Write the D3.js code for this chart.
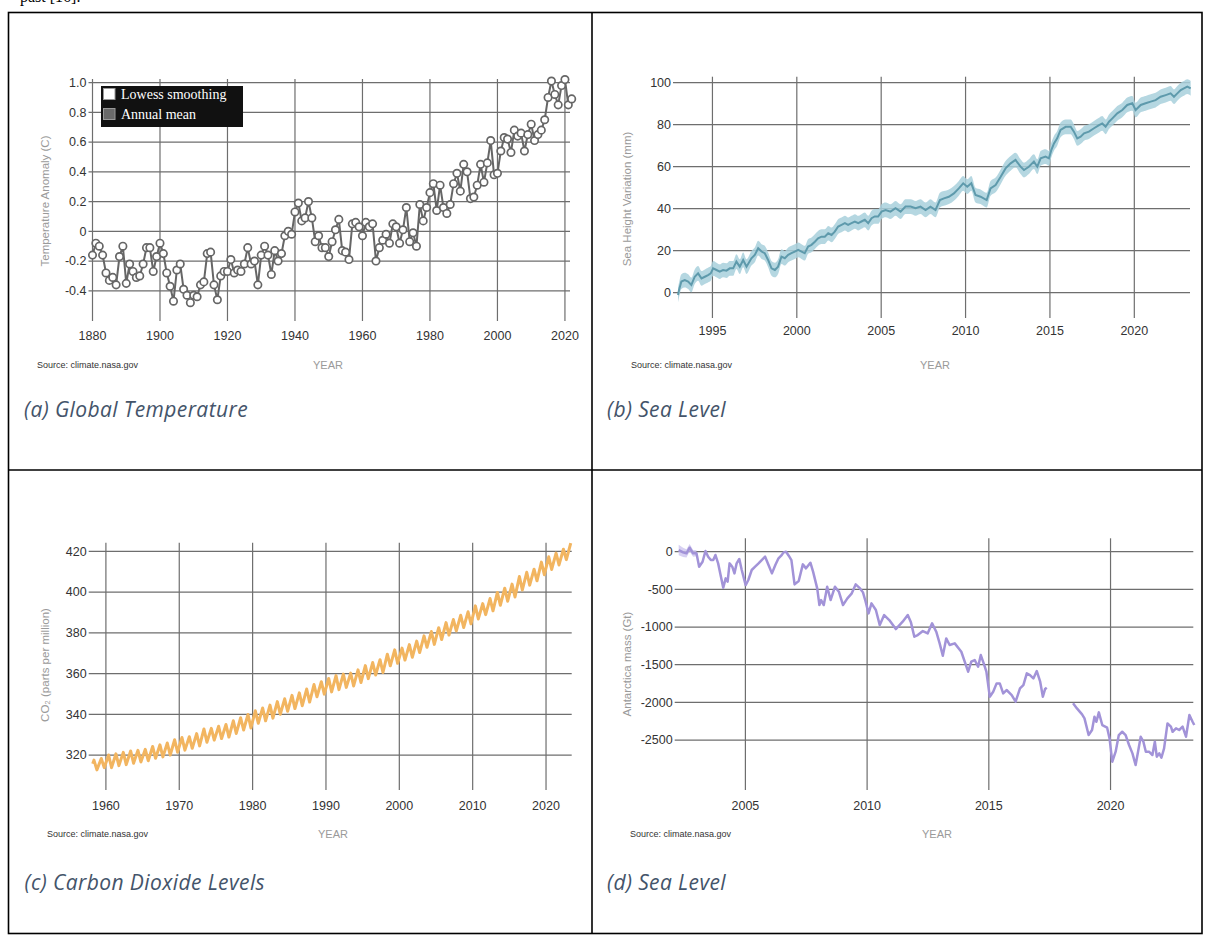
<!DOCTYPE html>
<html>
<head>
<meta charset="utf-8">
<script src="https://cdn.jsdelivr.net/npm/d3@7"></script>
<style>
  body { margin: 0; background: #fff; }
  svg text { font-family: "Liberation Sans", Arial, sans-serif; }
</style>
</head>
<body>
<svg id="fig" width="1205" height="936"></svg>
<script>
// ---------- (a) Global temperature anomaly, annual mean (°C), 1880–2022 ----------
const tempStartYear = 1880;
const tempAnomaly = [
  -0.16,-0.08,-0.10,-0.16,-0.28,-0.33,-0.31,-0.36,-0.17,-0.10,
  -0.35,-0.22,-0.27,-0.31,-0.30,-0.22,-0.11,-0.11,-0.27,-0.17,
  -0.08,-0.15,-0.28,-0.37,-0.47,-0.26,-0.22,-0.39,-0.43,-0.48,
  -0.43,-0.44,-0.36,-0.34,-0.15,-0.14,-0.36,-0.46,-0.30,-0.27,
  -0.27,-0.19,-0.28,-0.26,-0.27,-0.22,-0.11,-0.22,-0.20,-0.36,
  -0.16,-0.10,-0.16,-0.29,-0.13,-0.20,-0.15,-0.03,-0.00,-0.02,
   0.13, 0.19, 0.07, 0.09, 0.20, 0.09,-0.07,-0.03,-0.11,-0.11,
  -0.17,-0.07, 0.01, 0.08,-0.13,-0.14,-0.19, 0.05, 0.06, 0.03,
  -0.03, 0.06, 0.03, 0.05,-0.20,-0.11,-0.06,-0.02,-0.08, 0.05,
   0.03,-0.08, 0.01, 0.16,-0.07,-0.01,-0.10, 0.18, 0.07, 0.16,
   0.26, 0.32, 0.14, 0.31, 0.16, 0.12, 0.18, 0.32, 0.39, 0.27,
   0.45, 0.40, 0.22, 0.23, 0.31, 0.45, 0.33, 0.46, 0.61, 0.38,
   0.39, 0.54, 0.63, 0.62, 0.53, 0.68, 0.64, 0.66, 0.54, 0.65,
   0.72, 0.61, 0.65, 0.68, 0.75, 0.90, 1.01, 0.92, 0.85, 0.98,
   1.02, 0.85, 0.89
];
const tempXTicks = [1880, 1900, 1920, 1940, 1960, 1980, 2000, 2020];
const tempYTicks = [-0.4, -0.2, 0, 0.2, 0.4, 0.6, 0.8, 1.0];
const tempYLabels = ["-0.4", "-0.2", "0", "0.2", "0.4", "0.6", "0.8", "1.0"];
const tempLegend = ["Lowess smoothing", "Annual mean"];

// ---------- (b) Satellite sea height variation (mm) ----------
const seaYears = [
  1992.96,1993.02,1993.16,1993.36,1993.56,1993.75,1993.95,1994.15,1994.35,1994.55,
  1994.74,1994.90,1995.04,1995.24,1995.43,1995.63,1995.83,1996.03,1996.23,1996.42,
  1996.62,1996.82,1997.02,1997.31,1997.51,1997.71,1997.91,1998.10,1998.30,1998.50,
  1998.70,1998.89,1999.09,1999.29,1999.49,1999.68,1999.88,2000.08,2000.28,2000.47,
  2000.67,2000.87,2001.07,2001.26,2001.46,2001.66,2001.86,2002.06,2002.25,2002.45,
  2002.65,2002.85,2003.04,2003.24,2003.44,2003.64,2003.83,2004.03,2004.23,2004.43,
  2004.62,2004.82,2005.02,2005.26,2005.55,2005.85,2006.15,2006.44,2006.74,2007.04,
  2007.33,2007.63,2007.92,2008.22,2008.48,2008.72,2009.01,2009.31,2009.60,2009.86,
  2010.10,2010.34,2010.59,2010.89,2011.25,2011.48,2011.78,2012.08,2012.37,2012.67,
  2012.96,2013.26,2013.46,2013.75,2014.05,2014.25,2014.45,2014.74,2014.94,2015.08,
  2015.24,2015.43,2015.63,2015.93,2016.23,2016.42,2016.62,2016.82,2017.02,2017.31,
  2017.61,2017.91,2018.10,2018.30,2018.50,2018.70,2018.99,2019.29,2019.58,2019.88,
  2020.08,2020.38,2020.67,2020.97,2021.26,2021.56,2021.86,2022.15,2022.35,2022.55,
  2022.75,2022.94,2023.14,2023.34
];
const seaHeight = [
  -1.1, 1.3, 5.3, 6.0, 5.3, 3.7, 7.6, 9.2, 6.8, 7.6,
   8.4, 9.2,11.6,10.8,10.0,10.8,10.5,11.6,11.6,14.8,
  12.4,15.6,12.4,16.4,18.0,21.2,19.6,18.8,15.6,11.6,
  10.8,12.4,17.2,16.4,18.0,18.8,19.6,20.4,19.6,18.8,
  22.0,22.8,24.3,25.9,26.7,26.7,28.3,27.5,29.1,31.5,
  32.3,33.1,32.3,33.1,33.9,33.1,33.9,34.7,33.1,35.5,
  36.3,36.3,38.6,39.4,38.6,40.2,38.6,41.0,41.0,40.2,
  41.0,39.4,41.0,39.4,44.1,44.9,45.7,47.3,49.7,52.1,
  50.5,52.1,46.5,45.7,44.1,49.7,51.3,55.2,59.2,61.6,
  63.2,60.0,58.4,60.0,62.4,60.0,64.0,64.8,64.0,67.9,
  71.1,73.5,77.5,79.0,79.0,76.7,73.5,74.3,75.9,76.7,
  78.3,79.8,80.6,79.0,81.4,83.0,85.4,87.0,89.4,90.2,
  87.0,89.4,90.2,91.0,91.7,93.3,94.1,94.9,93.3,94.9,
  96.5,97.3,98.1,97.3
];
const seaUncertainty = 3.5;
const seaXTicks = [1995, 2000, 2005, 2010, 2015, 2020];
const seaYTicks = [0, 20, 40, 60, 80, 100];

// ---------- (c) Atmospheric CO2 (ppm): May maxima and October minima ----------
const co2First = { year: 1958.2, ppm: 315.7 };
const co2PeakYears = d3.range(1958, 2024);
const co2Peaks = [
  317.5,318.3,320.0,320.6,321.3,322.0,322.3,322.8,324.2,325.0,
  325.9,327.5,328.6,329.0,330.5,332.8,333.1,334.1,335.0,336.8,
  338.3,339.9,341.7,343.1,344.5,346.2,347.6,349.3,350.5,352.4,
  354.6,356.0,357.6,359.0,359.7,360.2,361.8,363.9,365.4,366.8,
  369.5,371.6,372.5,374.2,375.9,378.5,380.6,382.5,385.0,386.5,
  388.6,390.3,393.2,394.3,396.8,399.8,401.9,403.9,407.6,409.7,
  411.2,414.7,417.3,419.1,421.0,424.0
];
const co2Troughs = [
  312.7,313.8,313.8,314.8,315.3,316.0,316.6,317.2,318.4,319.1,
  320.0,321.4,322.4,323.3,324.5,326.3,327.3,328.1,328.8,330.6,
  332.3,333.3,335.6,336.8,338.1,340.0,341.5,342.8,344.2,346.0,
  348.6,349.9,351.0,352.1,353.2,353.9,355.6,357.5,359.3,360.5,
  363.8,365.0,366.6,368.0,370.3,372.9,374.3,376.7,378.9,380.9,
  382.6,384.4,386.8,388.9,390.8,393.5,395.5,397.6,401.0,403.4,
  405.5,408.5,411.1,413.3,415.9
];
const co2XTicks = [1960, 1970, 1980, 1990, 2000, 2010, 2020];
const co2YTicks = [320, 340, 360, 380, 400, 420];

// ---------- (d) Antarctica ice mass change (Gt), GRACE / GRACE-FO ----------
const iceYears = [
  2002.26,2002.44,2002.58,2002.71,2002.85,2002.99,2003.10,2003.24,2003.36,2003.47,
  2003.58,2003.68,2003.77,2003.88,2004.09,2004.19,2004.27,2004.35,2004.46,2004.55,
  2004.64,2004.75,2004.85,2005.01,2005.12,2005.26,2005.40,2005.54,2005.67,2005.81,
  2005.95,2006.09,2006.23,2006.36,2006.47,2006.57,2006.67,2006.78,2006.89,2007.02,
  2007.19,2007.36,2007.49,2007.67,2007.78,2007.95,2008.04,2008.11,2008.22,2008.36,
  2008.50,2008.68,2008.84,2009.01,2009.19,2009.37,2009.53,2009.71,2009.83,2009.94,
  2010.06,2010.18,2010.36,2010.52,2010.70,2010.91,2011.18,2011.46,2011.67,2011.80,
  2011.94,2012.08,2012.29,2012.49,2012.67,2012.84,2012.98,2013.11,2013.25,2013.39,
  2013.60,2013.87,2014.15,2014.28,2014.42,2014.56,2014.67,2014.79,2014.90,2015.04,
  2015.18,2015.32,2015.45,2015.59,2015.73,2015.94,2016.10,2016.28,2016.42,2016.56,
  2016.69,2016.83,2016.97,2017.11,2017.22,2017.31,2017.38,2017.90,
  2018.46,2018.62,2018.83,2018.93,2019.10,2019.24,2019.34,2019.42,2019.52,2019.66,
  2019.86,2019.96,2020.07,2020.21,2020.34,2020.48,2020.62,2020.76,2020.90,2021.03,
  2021.13,2021.24,2021.35,2021.45,2021.58,2021.72,2021.82,2021.90,2022.00,2022.09,
  2022.20,2022.34,2022.48,2022.55,2022.69,2022.82,2022.96,2023.10,2023.24,2023.37,
  2023.44
];
// null marks the gap between the two satellite missions
const iceMass = [
    22,   -9,  -22,   53,  -22,  -22, -199, -133,    9,  -66,
  -111, -111,  -44, -155, -478, -354, -398, -155, -199, -288,
  -155,  -97, -243, -443, -376, -243, -199, -155, -111,  -66,
  -177, -288, -177,  -88,  -53,   -9,    0,  -53, -111, -434,
  -389, -168, -221, -146, -265, -487, -708, -642, -708, -465,
  -642, -465, -531, -708, -620, -553, -434, -487, -540, -664,
  -819, -686, -774, -974, -841, -907,-1027, -929, -841, -938,
 -1128,-1106,-1053,-1084, -951,-1062,-1217,-1381,-1151,-1239,
 -1217,-1328,-1593,-1460,-1438,-1527,-1372,-1482,-1593,-1925,
 -1859,-1748,-1748,-1881,-1836,-1903,-1991,-1814,-1770,-1615,
 -1637,-1682,-1584,-1726,-1925,-1823,-1805, null,
 -2013,-2080,-2159,-2212,-2434,-2367,-2190,-2257,-2133,-2301,
 -2336,-2478,-2788,-2655,-2434,-2390,-2434,-2566,-2677,-2832,
 -2655,-2456,-2522,-2655,-2655,-2699,-2522,-2721,-2677,-2735,
 -2611,-2279,-2323,-2390,-2345,-2367,-2323,-2456,-2168,-2257,
 -2301
];
const iceBandHalfWidth = [70, 60, 55, 50, 45, 40];
const iceXTicks = [2005, 2010, 2015, 2020];
const iceYTicks = [0, -500, -1000, -1500, -2000, -2500];

const sourceText = "Source: climate.nasa.gov";

// ---------------------------------------------------------------------------
const svg = d3.select("#fig");
const GRID = "#6e6e6e";
const TICK_TXT = "#333";
const TITLE_TXT = "#9a9a9a";

// Figure frame with its four cells
const frame = svg.append("g").attr("stroke", "#000").attr("stroke-width", 1.6).attr("fill", "none");
frame.append("rect").attr("x", 8.5).attr("y", 12.5).attr("width", 1193.5).attr("height", 921);
frame.append("line").attr("x1", 592).attr("x2", 592).attr("y1", 12.5).attr("y2", 933.5);
frame.append("line").attr("x1", 8.5).attr("x2", 1202).attr("y1", 470).attr("y2", 470);

// Tail of the preceding paragraph, running off the top of the page
svg.append("text").attr("x", 20).attr("y", 2)
  .style("font-family", "'Liberation Serif', serif").style("font-size", "16px")
  .attr("fill", "#000").text("past [16].");

function panel(o) {
  const g = svg.append("g");
  const [x0, x1] = o.x.range();
  // horizontal grid + tick stubs
  g.selectAll(".hg").data(o.yTicks).join("line")
    .attr("x1", x0 - 4).attr("x2", x1)
    .attr("y1", d => o.y(d)).attr("y2", d => o.y(d))
    .attr("stroke", GRID).attr("stroke-width", 1.2);
  // vertical grid extending into tick marks
  g.selectAll(".vg").data(o.xTicks).join("line")
    .attr("x1", d => o.x(d)).attr("x2", d => o.x(d))
    .attr("y1", o.gridTop).attr("y2", o.gridBottom)
    .attr("stroke", GRID).attr("stroke-width", 1.2);
  // y tick labels
  g.selectAll(".yl").data(o.yTicks).join("text")
    .attr("x", x0 - 6).attr("y", d => o.y(d)).attr("dy", "0.35em")
    .attr("text-anchor", "end").attr("fill", TICK_TXT)
    .style("font-size", "12.5px")
    .text((d, i) => o.yLabels ? o.yLabels[i] : String(d));
  // x tick labels
  g.selectAll(".xl").data(o.xTicks).join("text")
    .attr("x", d => o.x(d)).attr("y", o.xLabelY)
    .attr("text-anchor", "middle").attr("fill", TICK_TXT)
    .style("font-size", "12.5px").text(d => d);
  // y axis title
  g.append("text")
    .attr("transform", `translate(${o.yTitleX},${o.yTitleY}) rotate(-90)`)
    .attr("text-anchor", "middle").attr("dy", "0.35em")
    .attr("fill", TITLE_TXT).style("font-size", "11.5px").text(o.yTitle);
  // source note and x axis title
  g.append("text").attr("x", o.sourceX).attr("y", o.footY)
    .attr("fill", "#333").style("font-size", "9px").text(sourceText);
  g.append("text").attr("x", o.yearX).attr("y", o.footY + 1)
    .attr("text-anchor", "middle").attr("fill", TITLE_TXT)
    .style("font-size", "11px").text("YEAR");
  // caption
  g.append("text").attr("x", o.capX).attr("y", o.capY)
    .attr("fill", "#44546a")
    .style("font-family", "'Open Sans', 'Noto Sans', sans-serif")
    .style("font-style", "italic").style("font-size", "21px")
    .style("letter-spacing", "0.4px")
    .text(o.caption);
  return g;
}

// ---------- (a) ----------
{
  const x = d3.scaleLinear().domain([1880, 2021.5]).range([92.5, 570]);
  const y = d3.scaleLinear().domain([-0.6, 1.0]).range([320.55, 82.55]);
  const g = panel({
    x, y, xTicks: tempXTicks, yTicks: tempYTicks, yLabels: tempYLabels,
    gridTop: 79, gridBottom: 321, xLabelY: 340,
    yTitle: "Temperature Anomaly (C)", yTitleX: 45, yTitleY: 201,
    sourceX: 37, yearX: 328, footY: 368,
    capX: 24, capY: 417, caption: "(a) Global Temperature"
  });
  const pts = tempAnomaly.map((v, i) => ({ yr: tempStartYear + i, v }));
  g.append("path").datum(pts)
    .attr("d", d3.line().x(d => x(d.yr)).y(d => y(d.v)))
    .attr("fill", "none").attr("stroke", "#666").attr("stroke-width", 2);
  g.selectAll(".pt").data(pts).join("circle")
    .attr("cx", d => x(d.yr)).attr("cy", d => y(d.v)).attr("r", 3.7)
    .attr("fill", "#fff").attr("stroke", "#666").attr("stroke-width", 1.7);

  // legend box
  const lg = g.append("g");
  lg.append("rect").attr("x", 101).attr("y", 86).attr("width", 142).attr("height", 41).attr("fill", "#111");
  const swatch = ["#fff", "#6a6a6a"];
  tempLegend.forEach((t, i) => {
    lg.append("rect").attr("x", 103.5).attr("y", 88.5 + i * 20).attr("width", 11.5).attr("height", 11)
      .attr("fill", swatch[i]).attr("stroke", "#999").attr("stroke-width", 1);
    lg.append("text").attr("x", 121).attr("y", 98.5 + i * 20)
      .style("font-family", "'Liberation Serif', 'Times New Roman', serif")
      .style("font-size", "14px").attr("fill", "#fff").text(t);
  });
}

// ---------- (b) ----------
{
  const x = d3.scaleLinear().domain([1992.9, 2023.3]).range([677, 1190]);
  const y = d3.scaleLinear().domain([-10, 100]).range([313.7, 82.7]);
  const g = panel({
    x, y, xTicks: seaXTicks, yTicks: seaYTicks,
    gridTop: 76.7, gridBottom: 318, xLabelY: 335,
    yTitle: "Sea Height Variation (mm)", yTitleX: 627, yTitleY: 199,
    sourceX: 631, yearX: 935, footY: 368,
    capX: 607, capY: 417, caption: "(b) Sea Level"
  });
  const pts = seaYears.map((yr, i) => ({ yr, v: seaHeight[i] }));
  g.append("path").datum(pts)
    .attr("d", d3.area().x(d => x(d.yr)).y0(d => y(d.v - seaUncertainty)).y1(d => y(d.v + seaUncertainty)).curve(d3.curveMonotoneX))
    .attr("fill", "#a8d0dc").attr("opacity", 0.85);
  g.append("path").datum(pts)
    .attr("d", d3.line().x(d => x(d.yr)).y(d => y(d.v)))
    .attr("fill", "none").attr("stroke", "#5e9aac").attr("stroke-width", 2);
}

// ---------- (c) ----------
{
  const x = d3.scaleLinear().domain([1958.2, 2023.5]).range([92.7, 571.7]);
  const y = d3.scaleLinear().domain([310, 420]).range([775.4, 551.3]);
  const g = panel({
    x, y, xTicks: co2XTicks, yTicks: co2YTicks,
    gridTop: 542.7, gridBottom: 790, xLabelY: 809.5,
    yTitle: "CO₂ (parts per million)", yTitleX: 45, yTitleY: 665,
    sourceX: 47, yearX: 333, footY: 837,
    capX: 24.5, capY: 890, caption: "(c) Carbon Dioxide Levels"
  });
  const pts = [{ yr: co2First.year, v: co2First.ppm }];
  co2PeakYears.forEach((yr, i) => {
    pts.push({ yr: yr + 0.37, v: co2Peaks[i] });
    if (i < co2Troughs.length) pts.push({ yr: yr + 0.77, v: co2Troughs[i] });
  });
  g.append("path").datum(pts)
    .attr("d", d3.line().x(d => x(d.yr)).y(d => y(d.v)))
    .attr("fill", "none").attr("stroke", "#f2b560").attr("stroke-width", 3)
    .attr("stroke-linejoin", "round");
}

// ---------- (d) ----------
{
  const x = d3.scaleLinear().domain([2002.26, 2023.4]).range([678.7, 1193.3]);
  const y = d3.scaleLinear().domain([-3000, 0]).range([777.7, 551.7]);
  const g = panel({
    x, y, xTicks: iceXTicks, yTicks: iceYTicks,
    gridTop: 538.3, gridBottom: 790, xLabelY: 809.5,
    yTitle: "Antarctica mass (Gt)", yTitleX: 627, yTitleY: 664,
    sourceX: 630, yearX: 937, footY: 837,
    capX: 607, capY: 890, caption: "(d) Sea Level"
  });
  const pts = iceYears.map((yr, i) => ({ yr, v: iceMass[i] }));
  const band = iceBandHalfWidth.map((h, i) => ({ yr: iceYears[i], v: iceMass[i], h }));
  g.append("path").datum(band)
    .attr("d", d3.area().x(d => x(d.yr)).y0(d => y(d.v - d.h)).y1(d => y(d.v + d.h)))
    .attr("fill", "#cdc4ef").attr("opacity", 0.8);
  g.append("path").datum(pts)
    .attr("d", d3.line().defined(d => d.v !== null).x(d => x(d.yr)).y(d => y(d.v)))
    .attr("fill", "none").attr("stroke", "#a293d8").attr("stroke-width", 2.5)
    .attr("stroke-linejoin", "round");
}
</script>
</body>
</html>
